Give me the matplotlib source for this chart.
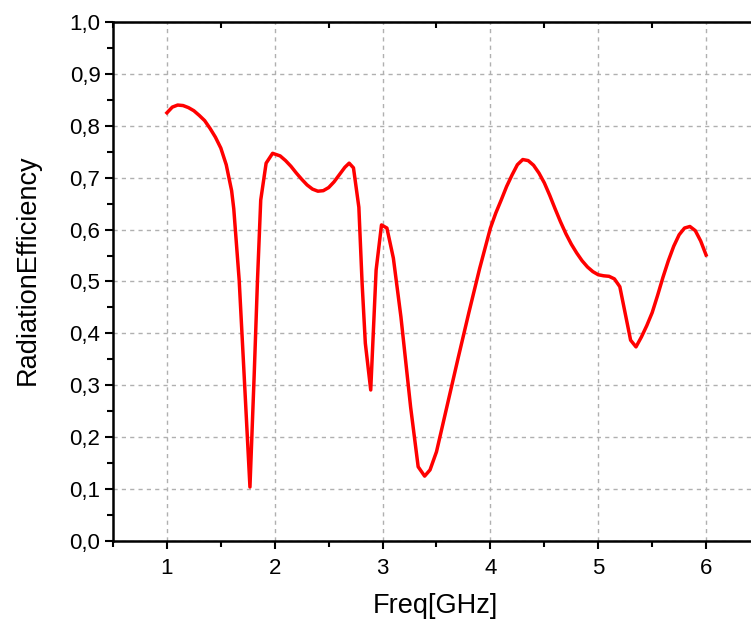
import matplotlib
matplotlib.use("Agg")
import matplotlib.pyplot as plt
from matplotlib.ticker import MultipleLocator, FuncFormatter, NullFormatter

plt.rcParams['font.family'] = ['Liberation Sans', 'DejaVu Sans']

# data
freq = [1.00, 1.05, 1.10, 1.15, 1.20, 1.25, 1.30, 1.35, 1.40, 1.45, 1.50, 1.55,
        1.60, 1.62, 1.67, 1.715, 1.77, 1.81, 1.84, 1.87, 1.92, 1.98,
        2.05, 2.10, 2.15, 2.20, 2.25, 2.30, 2.35, 2.40, 2.45, 2.50, 2.55, 2.60,
        2.65, 2.69, 2.73, 2.78, 2.81, 2.84, 2.89, 2.94, 2.99, 3.04, 3.10, 3.17,
        3.26, 3.33, 3.39, 3.44, 3.50, 3.60, 3.70, 3.80, 3.90, 4.00, 4.05, 4.10,
        4.15, 4.20, 4.25, 4.30, 4.35, 4.40, 4.45, 4.50, 4.55, 4.60, 4.65, 4.70,
        4.75, 4.80, 4.85, 4.90, 4.95, 5.00, 5.05, 5.10, 5.15, 5.20, 5.30, 5.35,
        5.40, 5.45, 5.50, 5.55, 5.60, 5.65, 5.70, 5.75, 5.80, 5.85, 5.90, 5.95, 6.00]
eff = [0.825, 0.836, 0.840, 0.839, 0.835, 0.829, 0.820, 0.810, 0.795, 0.778, 0.757, 0.725,
       0.675, 0.640, 0.503, 0.324, 0.104, 0.324, 0.503, 0.657, 0.728, 0.747,
       0.742, 0.733, 0.722, 0.709, 0.697, 0.686, 0.678, 0.674, 0.675, 0.681, 0.692, 0.706,
       0.720, 0.728, 0.719, 0.643, 0.497, 0.381, 0.291, 0.522, 0.609, 0.603, 0.545, 0.432,
       0.258, 0.143, 0.125, 0.137, 0.172, 0.262, 0.352, 0.440, 0.525, 0.603, 0.632, 0.657,
       0.683, 0.705, 0.725, 0.735, 0.733, 0.724, 0.709, 0.690, 0.666, 0.640, 0.615, 0.592,
       0.572, 0.555, 0.540, 0.528, 0.519, 0.513, 0.511, 0.510, 0.505, 0.490, 0.387, 0.374,
       0.393, 0.415, 0.440, 0.473, 0.508, 0.540, 0.568, 0.590, 0.603, 0.606, 0.598, 0.578, 0.551]

fig = plt.figure(figsize=(7.51, 6.23), dpi=100)
ax = fig.add_axes([113/751, 82/623, 647/751, 519/623])

ax.plot(freq, eff, color='#ff0000', lw=2.5)

ax.set_xlim(0.5, 6.5)
ax.set_ylim(0, 1.0)
ax.xaxis.set_major_locator(MultipleLocator(1))
ax.xaxis.set_minor_locator(MultipleLocator(0.5))
ax.yaxis.set_major_locator(MultipleLocator(0.1))
ax.yaxis.set_minor_locator(MultipleLocator(0.05))
ax.yaxis.set_major_formatter(FuncFormatter(lambda v, p: f"{v:.1f}".replace('.', ',')))

ax.grid(True, which='major', color='#b0b0b0', linestyle=(0, (3, 3)), lw=1)
ax.tick_params(which='major', direction='out', length=6, width=1.5, labelsize=16, colors='black')
ax.tick_params(axis='x', which='major', pad=6)
ax.tick_params(axis='y', which='major', pad=3)
ax.tick_params(which='minor', direction='out', length=4, width=1.5)
for s in ax.spines.values():
    s.set_linewidth(1.8)

top = ax.secondary_xaxis('top')
top.xaxis.set_major_locator(MultipleLocator(1))
top.xaxis.set_minor_locator(MultipleLocator(0.5))
top.tick_params(which='major', length=0, labeltop=False)
top.tick_params(which='minor', direction='in', length=4, width=1.5)
top.xaxis.set_major_formatter(NullFormatter())

ax.set_xlabel("Freq[GHz]", fontsize=19.5)
ax.set_ylabel("RadiationEfficiency", fontsize=19.5)
ax.xaxis.set_label_coords(0.498, -0.125)
ax.yaxis.set_label_coords(-0.131, 0.522)
ax.xaxis.label.set_verticalalignment('center')
ax.yaxis.label.set_verticalalignment('center')

fig.savefig("out.png", dpi=100)
